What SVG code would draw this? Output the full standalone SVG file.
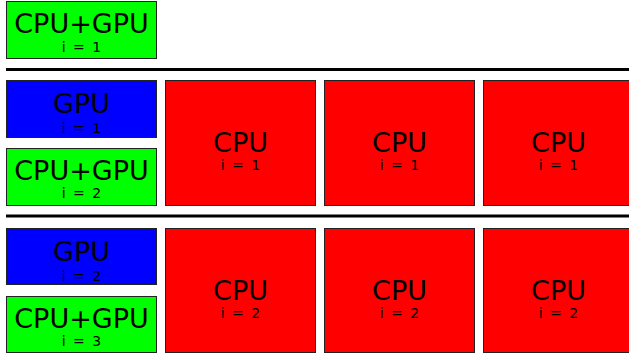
<svg xmlns="http://www.w3.org/2000/svg" width="629" height="358" viewBox="0 0 629 358">
<style>
  rect { stroke: #222; stroke-width: 1; }
  .g { fill: #00ff00; }
  .b { fill: #0000ff; }
  .r { fill: #ff0000; }
  text { font-family: "DejaVu Sans", sans-serif; fill: #000; text-anchor: middle; }
  .big { font-size: 27px; }
  .small { font-size: 14px; word-spacing: 3px; }
  .sep { stroke: #000; stroke-width: 3; }
</style>
<rect width="629" height="358" fill="#fff" style="stroke:none"/>
<g id="connectors">
  <line class="sep" x1="6" y1="69.5" x2="629" y2="69.5"/>
  <line class="sep" x1="6" y1="216" x2="629" y2="216"/>
</g>
<g id="n0"><rect class="g" x="6.5" y="1.5" width="150" height="57"/><text class="big" x="81.5" y="33">CPU+GPU</text><text class="small" x="81.5" y="52">i = 1</text></g>

<g id="n1"><rect class="b" x="6.5" y="80.5" width="150" height="57"/><text class="big" x="81.5" y="113">GPU</text><text class="small" x="81.5" y="133">i = 1</text></g>
<g id="n2"><rect class="g" x="6.5" y="148.5" width="150" height="57"/><text class="big" x="81.5" y="180">CPU+GPU</text><text class="small" x="81.5" y="198">i = 2</text></g>
<g id="n3"><rect class="r" x="165.5" y="80.5" width="150" height="125"/><text class="big" x="240.5" y="152">CPU</text><text class="small" x="240.5" y="170">i = 1</text></g>
<g id="n4"><rect class="r" x="324.5" y="80.5" width="150" height="125"/><text class="big" x="399.5" y="152">CPU</text><text class="small" x="399.5" y="170">i = 1</text></g>
<g id="n5"><rect class="r" x="483.5" y="80.5" width="150" height="125"/><text class="big" x="558.5" y="152">CPU</text><text class="small" x="558.5" y="170">i = 1</text></g>

<g id="n6"><rect class="b" x="6.5" y="228.5" width="150" height="56"/><text class="big" x="81.5" y="261">GPU</text><text class="small" x="81.5" y="281">i = 2</text></g>
<g id="n7"><rect class="g" x="6.5" y="296.5" width="150" height="56"/><text class="big" x="81.5" y="328">CPU+GPU</text><text class="small" x="81.5" y="346">i = 3</text></g>
<g id="n8"><rect class="r" x="165.5" y="228.5" width="150" height="124"/><text class="big" x="240.5" y="300">CPU</text><text class="small" x="240.5" y="318">i = 2</text></g>
<g id="n9"><rect class="r" x="324.5" y="228.5" width="150" height="124"/><text class="big" x="399.5" y="300">CPU</text><text class="small" x="399.5" y="318">i = 2</text></g>
<g id="n10"><rect class="r" x="483.5" y="228.5" width="150" height="124"/><text class="big" x="558.5" y="300">CPU</text><text class="small" x="558.5" y="318">i = 2</text></g>
</svg>
